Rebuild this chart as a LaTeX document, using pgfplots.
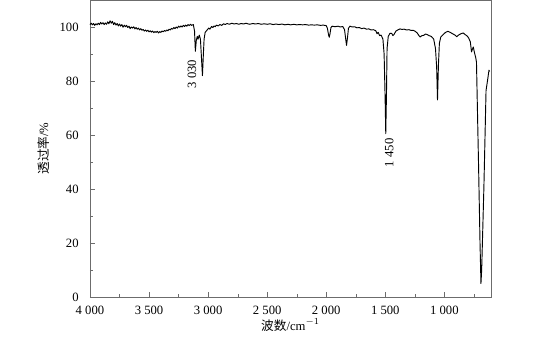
\documentclass[border=0pt]{standalone}
\usepackage{pgfplots}
\pgfplotsset{compat=1.18}
\usepackage{fontspec}
\setmainfont{Liberation Serif}
\newfontfamily\cjk{Noto Sans CJK SC}
\pgfplotstableread{
x y
4000 100.9
3990 101.4
3980 100.8
3970 101.3
3960 100.6
3950 101.2
3940 100.8
3930 101.4
3920 100.9
3910 101.7
3900 101.1
3890 101.6
3880 100.9
3870 101.5
3860 101.0
3850 101.9
3840 101.2
3830 102.3
3820 101.4
3810 102.1
3800 100.9
3790 101.6
3780 100.7
3770 101.3
3760 100.4
3750 101.1
3740 100.3
3730 100.9
3720 99.9
3710 100.7
3700 100.1
3690 100.6
3680 99.8
3670 100.3
3660 99.4
3650 100.0
3640 99.6
3630 100.1
3620 99.3
3610 99.8
3600 99.2
3590 99.6
3580 98.9
3570 99.4
3560 98.8
3550 99.1
3540 98.5
3530 98.9
3520 98.4
3510 98.8
3500 98.2
3490 98.6
3480 98.1
3470 98.5
3460 97.9
3450 98.3
3440 98.0
3430 98.4
3420 97.8
3410 98.3
3400 98.0
3390 98.5
3380 98.2
3370 98.7
3360 98.4
3350 98.9
3340 98.6
3330 99.2
3320 98.9
3310 99.5
3300 99.2
3290 99.8
3280 99.4
3270 100.0
3260 99.6
3250 100.3
3240 99.9
3230 100.4
3220 100.0
3210 100.6
3200 100.2
3190 100.7
3180 100.3
3170 100.9
3160 100.5
3150 101.0
3140 100.6
3125 100.9
3115 98.5
3108 91.0
3100 95.0
3092 96.5
3085 95.5
3075 97.0
3065 95.5
3058 90.0
3048 82.0
3040 90.0
3034 95.5
3025 98.0
3010 98.8
2995 99.6
2985 99.2
2970 100.2
2960 99.8
2950 100.4
2940 100.1
2930 100.7
2915 100.4
2900 100.9
2885 100.6
2870 101.2
2855 100.9
2840 101.3
2820 101.0
2800 101.4
2780 101.1
2760 101.3
2740 101.0
2720 101.3
2700 101.1
2680 101.4
2650 101.0
2620 101.3
2600 101.1
2575 101.3
2550 101.0
2525 101.2
2500 101.0
2475 101.2
2450 100.9
2425 101.1
2400 100.9
2375 101.1
2350 100.8
2325 101.0
2300 100.8
2275 101.0
2250 100.8
2225 100.9
2200 100.8
2175 100.9
2150 100.7
2125 100.8
2100 100.7
2075 100.8
2050 100.6
2025 100.7
2000 100.5
1990 99.5
1980 97.0
1974 96.2
1968 97.5
1960 99.8
1950 100.3
1925 100.1
1900 100.3
1880 100.0
1860 100.2
1845 99.0
1835 95.5
1828 93.2
1820 96.0
1812 99.5
1800 100.3
1780 100.0
1760 100.1
1740 99.7
1720 99.8
1700 99.4
1680 99.6
1660 99.2
1640 99.3
1620 98.9
1600 99.0
1580 98.6
1570 97.5
1560 98.0
1548 96.8
1535 97.0
1520 95.5
1510 90.0
1502 75.0
1496 60.5
1490 75.0
1485 92.0
1475 96.5
1460 97.7
1445 97.6
1435 96.8
1425 97.3
1410 98.5
1390 99.0
1375 99.3
1360 99.1
1340 99.2
1320 98.9
1300 99.0
1280 98.7
1265 98.8
1250 98.5
1230 97.8
1215 96.8
1205 96.3
1190 96.8
1175 96.9
1160 97.4
1145 97.2
1130 96.8
1110 96.5
1090 95.5
1075 92.0
1065 85.0
1058 73.0
1050 86.0
1042 94.0
1030 96.3
1010 97.2
990 98.0
970 98.4
950 98.0
930 97.5
910 97.0
895 96.4
880 97.0
860 97.5
840 97.8
825 97.2
810 96.8
795 96.0
780 94.5
770 90.8
762 91.8
755 92.6
745 90.5
735 88.8
728 87.0
710 48.0
698 20.0
690 5.0
684 10.0
665 41.0
647 76.5
635 80.0
622 84.0
617 83.5
}\spectrum
\begin{document}
\begin{tikzpicture}
\useasboundingbox (-67.5pt,-33.75pt) rectangle (343.5pt,222.75pt);
\begin{axis}[
  scale only axis,
  width=300.75pt, height=222.75pt,
  x dir=reverse,
  xmin=605, xmax=4000,
  ymin=0, ymax=110,
  xtick={1000,1500,2000,2500,3000,3500,4000},
  minor xtick={750,1250,1750,2250,2750,3250,3750},
  ytick={0,20,40,60,80,100},
  minor ytick={10,30,50,70,90},
  xtick pos=bottom, ytick pos=left,
  tick align=inside,
  major tick length=3.75pt, minor tick length=2.25pt,
  axis line style={gray!85!black},
  tick style={gray!85!black},
  tick label style={font=\fontsize{9.5}{11}\selectfont},
  yticklabel style={xshift=-5pt},
  xticklabel style={yshift=-3pt},
  /pgf/number format/.cd, 1000 sep={\ }, assume math mode=true,
  /pgfplots/.cd,
  xlabel={{\cjk 波数}/cm$^{-1}$},
  ylabel={{\cjk 透过率}/\%},
  label style={font=\fontsize{9.5}{11}\selectfont},
  xlabel style={at={(axis description cs:0.5,-0.0943)}, anchor=center},
  ylabel style={at={(axis description cs:-0.1164,0.5)}, anchor=center},
  clip=false,
]
\addplot[black, line width=0.7pt, line join=round] table[x=x,y=y] {\spectrum};
\node[rotate=90, font=\fontsize{9.5}{11}\selectfont] at (axis cs:3136,82.6) {3\ 030};
\node[rotate=90, font=\fontsize{9.5}{11}\selectfont] at (axis cs:1466,53.4) {1\ 450};
\end{axis}
\end{tikzpicture}
\end{document}
